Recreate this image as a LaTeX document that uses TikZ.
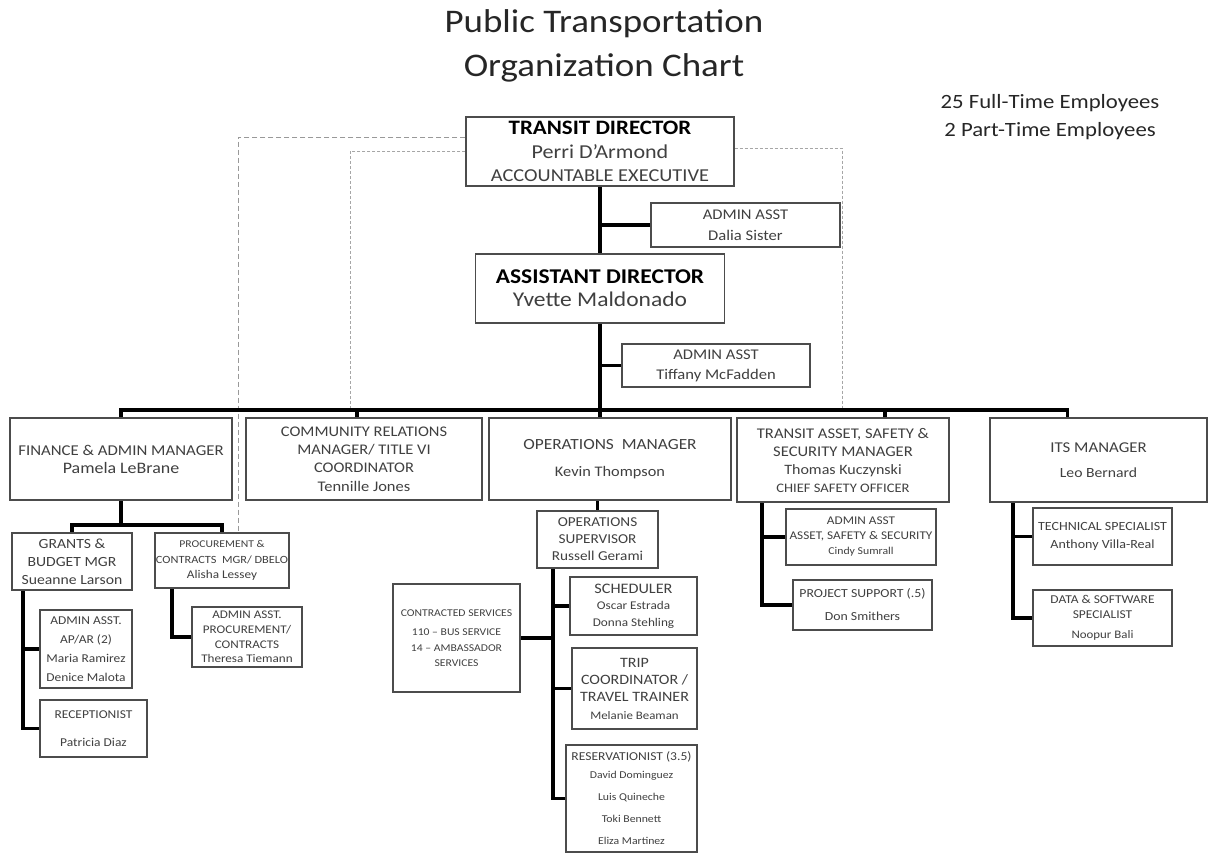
\documentclass[tikz,border=0pt]{standalone}
\usepackage{fontspec}
\setmainfont{Carlito}[FakeStretch=1.12]
\usepackage{xcolor}
\usepackage{tikz}
\usetikzlibrary{positioning,backgrounds}
\newcommand{\fsz}[2]{\fontsize{#1}{#2}\selectfont}

\begin{document}
\begin{tikzpicture}[
    x=1pt, y=-1pt,
    box/.style={draw=black!70, line width=1.3pt, fill=white, align=center, inner sep=1pt, text=black!75},
    link/.style={draw=black, line width=3.5pt},
    mainlink/.style={link, line width=4.5pt},
    dashlink/.style={draw=gray!80, line width=1pt, dash pattern=on 5pt off 3pt},
    dotlink/.style={draw=gray!70, line width=0.8pt, dash pattern=on 3pt off 2pt}
]
\useasboundingbox (0,0) rectangle (1209,854);

\node[align=center, text=black!85, font=\fsz{33}{44}] (title) at (604,46) {Public Transportation\\Organization Chart};
\node[align=center, text=black!85, font=\fsz{20.3}{28}] (count) at (1050,117) {25 Full-Time Employees\\2 Part-Time Employees};

\node[box, minimum width=268pt, minimum height=69pt, font=\fsz{19.7}{23.5}] (dir) at (600,151.5)
    {{\fsz{20.5}{23.5}\bfseries\color{black} TRANSIT DIRECTOR}\\Perri D’Armond\\{\fsz{18.2}{22}ACCOUNTABLE EXECUTIVE}};
\node[box, minimum width=189pt, minimum height=44pt, font=\fsz{14.8}{21}] (dasst1) at (745.5,225) {ADMIN ASST\\Dalia Sister};
\node[box, minimum width=249pt, minimum height=69pt, font=\fsz{21}{23}] (adir) at (600,288.5)
    {{\bfseries\color{black} ASSISTANT DIRECTOR}\\Yvette Maldonado};
\node[box, minimum width=188pt, minimum height=43pt, font=\fsz{14.8}{20}] (dasst2) at (716,365.5) {ADMIN ASST\\Tiffany McFadden};

\node[box, minimum width=222pt, minimum height=82pt, font=\fsz{15}{18}] (fin) at (121,459)
    {FINANCE \& ADMIN MANAGER\\{\fsz{16}{18}Pamela LeBrane}};
\node[box, minimum width=236pt, minimum height=82pt, font=\fsz{14.7}{18.3}] (comm) at (364,459)
    {COMMUNITY RELATIONS\\MANAGER/ TITLE VI\\COORDINATOR\\Tennille Jones};
\node[box, minimum width=242pt, minimum height=82pt, font=\fsz{15.5}{18}] (ops) at (610,459)
    {OPERATIONS~~MANAGER\\[9pt]{\fsz{14.6}{18}Kevin Thompson}};
\node[box, minimum width=212pt, minimum height=84pt, font=\fsz{14.8}{18}] (tas) at (843,460)
    {TRANSIT ASSET, SAFETY \&\\SECURITY MANAGER\\{\fsz{14.3}{18}Thomas Kuczynski}\\{\fsz{13}{18}CHIEF SAFETY OFFICER}};
\node[box, minimum width=217pt, minimum height=84pt, font=\fsz{15}{18}] (its) at (1098.5,460)
    {ITS MANAGER\\[7pt]{\fsz{14}{18}Leo Bernard}};

\node[box, minimum width=120pt, minimum height=57pt, font=\fsz{14}{18}] (grants) at (72,561.5) {GRANTS \&\\BUDGET MGR\\Sueanne Larson};
\node[box, minimum width=130pt, minimum height=55pt, font=\fsz{11}{15.5}] (proc) at (222,560.5)
    {{\fsz{10.4}{15.5}PROCUREMENT \&}\\CONTRACTS~~MGR/ DBELO\\{\fsz{11.8}{15.5}Alisha Lessey}};
\node[box, minimum width=110pt, minimum height=60pt, font=\fsz{11.7}{14.7}] (procasst) at (247,637)
    {ADMIN ASST.\\PROCUREMENT/\\CONTRACTS\\Theresa Tiemann};
\node[box, minimum width=92pt, minimum height=78pt, font=\fsz{12}{19}] (apar) at (86,649)
    {ADMIN ASST.\\AP/AR (2)\\Maria Ramirez\\Denice Malota};
\node[box, minimum width=107pt, minimum height=57pt, font=\fsz{12}{16}] (recep) at (93.5,728.5) {RECEPTIONIST\\[12pt]Patricia Diaz};

\node[box, minimum width=121pt, minimum height=57pt, font=\fsz{13.6}{17}] (opsup) at (597.5,539.5) {OPERATIONS\\SUPERVISOR\\Russell Gerami};
\node[box, minimum width=127pt, minimum height=108pt, font=\fsz{10.4}{15.5}] (contr) at (456.5,638)
    {CONTRACTED SERVICES\\[4pt]110 – BUS SERVICE\\14 – AMBASSADOR\\SERVICES};
\node[box, minimum width=127pt, minimum height=58pt, font=\fsz{11.8}{16.5}] (sched) at (633.5,606)
    {{\fsz{14.5}{16.5}SCHEDULER}\\Oscar Estrada\\Donna Stehling};
\node[box, minimum width=125pt, minimum height=81pt, font=\fsz{14.3}{17.3}] (trip) at (634.5,688.5)
    {TRIP\\COORDINATOR /\\TRAVEL TRAINER\\{\fsz{11.5}{17.3}Melanie Beaman}};
\node[box, minimum width=131pt, minimum height=107pt, font=\fsz{10.5}{22}] (resv) at (631.5,798.5)
    {{\fsz{12.1}{22}RESERVATIONIST (3.5)}\\[-4pt]David Dominguez\\Luis Quineche\\Toki Bennett\\Eliza Martinez};

\node[box, minimum width=150pt, minimum height=56pt, font=\fsz{11.8}{15}] (tasasst) at (861,537)
    {ADMIN ASST\\ASSET, SAFETY \& SECURITY\\{\fsz{10.5}{15}Cindy Sumrall}};
\node[box, minimum width=139pt, minimum height=50pt, font=\fsz{12.3}{16}] (proj) at (862.5,605) {PROJECT SUPPORT (.5)\\[7pt]Don Smithers};
\node[box, minimum width=139pt, minimum height=57pt, font=\fsz{12.5}{18}] (tech) at (1102.5,536.5) {TECHNICAL SPECIALIST\\Anthony Villa-Real};
\node[box, minimum width=139pt, minimum height=56pt, font=\fsz{12}{15}] (data) at (1102.5,618)
    {DATA \& SOFTWARE\\SPECIALIST\\[5pt]{\fsz{11.5}{15}Noopur Bali}};

\coordinate (bus) at (600,410);
\coordinate (finbar) at (121,525);
\coordinate (gv) at (23,0);
\coordinate (pv) at (172,0);
\coordinate (ov) at (553,0);
\coordinate (tv) at (762,0);
\coordinate (iv) at (1013,0);
\coordinate (dotL) at (350,410);
\coordinate (dotR) at (842,410);

\begin{scope}[on background layer]
\draw[dashlink] ([yshift=14.5pt]dir.west) -| ([xshift=16pt]proc.north);
\draw[dotlink] (dir.west) -| (dotL);
\draw[dotlink] ([yshift=3.5pt]dir.east) -| (dotR);

\draw[mainlink] (dir.south) -- (adir.north);
\draw[link] (dasst1.west) -- (dasst1.west -| dir.south);
\draw[mainlink] (adir.south) -- (adir.south |- ops.north);
\draw[link] (dasst2.west) -- (dasst2.west -| adir.south);
\draw[link] (fin.north) |- (bus) -| ([xshift=-31pt]its.north);
\draw[link] ([xshift=-7pt]comm.north) -- ([xshift=-7pt]comm.north |- bus);
\draw[link] ([xshift=42pt]tas.north) -- ([xshift=42pt]tas.north |- bus);

\draw[link] (fin.south) -- (finbar);
\draw[link] (grants.north) |- (finbar) -| (proc.north);
\draw[link] (grants.south -| gv) |- (apar.west);
\draw[link] (grants.south -| gv) |- (recep.west);
\draw[link] (proc.south -| pv) |- (procasst.west);

\draw[link] (ops.south -| opsup.north) -- (opsup.north);
\draw[link] (opsup.south -| ov) |- (resv.west);
\draw[link] (ov |- sched.west) -- (sched.west);
\draw[link] (ov |- trip.west) -- (trip.west);
\draw[link] (contr.east) -- (contr.east -| ov);

\draw[link] (tas.south -| tv) |- (proj.west);
\draw[link] (tv |- tasasst.west) -- (tasasst.west);
\draw[link] (its.south -| iv) |- (data.west);
\draw[link] (iv |- tech.west) -- (tech.west);
\end{scope}
\end{tikzpicture}
\end{document}
